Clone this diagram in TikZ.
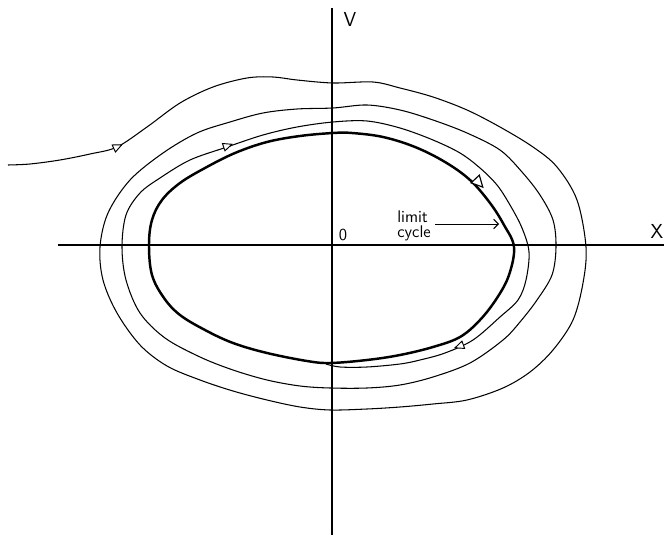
\documentclass[tikz,border=0pt]{standalone}
\usepackage{tikz}
\usetikzlibrary{arrows.meta,positioning}

\begin{document}
\begin{tikzpicture}[x=0.03cm, y=-0.03cm, every node/.style={font=\sffamily}]
  \tikzset{
      axis/.style={line width=1pt},
      orbit/.style={line width=0.9pt, line join=round},
      cycleline/.style={line width=2.1pt, line join=round},
      tip/.pic={\draw[line width=0.8pt, fill=white] (4.5pt,0pt) -- (-3pt,3.3pt) -- (-3pt,-3.3pt) -- cycle;},
      bigtip/.pic={\draw[line width=1pt, fill=white] (6pt,0pt) -- (-3.5pt,4.8pt) -- (-3.5pt,-4.8pt) -- cycle;}
  }
  \useasboundingbox (0,0) rectangle (667,540);

  % axes
  \draw[axis] (332,8) -- (332,535);
  \draw[axis] (58,245) -- (664,245);
  \node[font=\sffamily\LARGE] (vlab) at (350,19) {V};
  \node[font=\sffamily\LARGE] (xlab) at (657,231) {X};
  \node[font=\sffamily\Large] (orig) at (343,235) {0};

  % limit cycle
  \draw[cycleline] plot[smooth cycle, tension=0.6] coordinates {
      (149,245) (152,220) (162,200) (180,183) (205,168) (235,153) (267,142)
      (300,136) (333,133) (352,133) (383,137) (415,147) (445,162) (470,180)
      (490,203) (504,225) (514,247) (509,275) (497,298) (480,320) (460,337)
      (433,347) (400,355) (367,360) (330,363) (307,361) (267,353) (233,343)
      (205,330) (180,315) (164,298) (152,275)};

  % spiral trajectory approaching the cycle
  \draw[orbit] plot[smooth, tension=0.55] coordinates {
      (8,165) (30,164) (60,160) (90,154) (117,147) (147,127) (180,103) (213,87)
      (247,78) (273,77) (297,80) (333,83) (373,82) (400,88) (433,97) (467,110)
      (500,127) (533,147) (557,167) (577,200) (586,247) (583,283) (573,320)
      (553,350) (530,372) (503,388) (467,400) (433,404) (400,407) (367,409)
      (330,410) (300,407) (267,400) (233,391) (200,380) (167,366) (140,345)
      (117,313) (103,280) (100,247) (108,213) (130,180) (163,153) (197,133)
      (230,122) (263,113) (297,109) (333,108) (367,105) (400,110) (433,120)
      (467,133) (500,150) (522,172) (540,195) (553,220) (556,247) (552,275)
      (537,300) (520,322) (503,340) (470,363) (433,377) (400,385) (367,388)
      (330,388) (300,386) (267,380) (233,370) (200,357) (165,338) (140,313)
      (126,280) (122,247) (126,215) (140,193) (160,178) (190,160) (227,147)
      (263,135) (297,127) (333,122) (367,121) (400,128) (433,140) (460,153)
      (480,168) (497,185) (510,205) (522,228) (529,252) (526,280) (518,300)
      (500,317) (473,340) (445,353) (420,360) (400,364) (367,367) (340,367)
      (326,364)};

  % direction marks
  \pic[rotate=25] at (117,147) {tip};
  \pic[rotate=19] at (227,146) {tip};
  \pic[rotate=-47] at (478,182) {bigtip};
  \pic[rotate=200] at (460,346) {tip};

  \node[align=left, inner sep=1pt, font=\sffamily\Large] (lcname) at (414,226) {limit\\[-5pt]cycle};
  \coordinate (lcpt) at (499,224);
  \draw[-{Straight Barb[length=4pt]}, line width=0.8pt] (lcname.east |- lcpt) ++(3,0) -- (lcpt);
\end{tikzpicture}
\end{document}
